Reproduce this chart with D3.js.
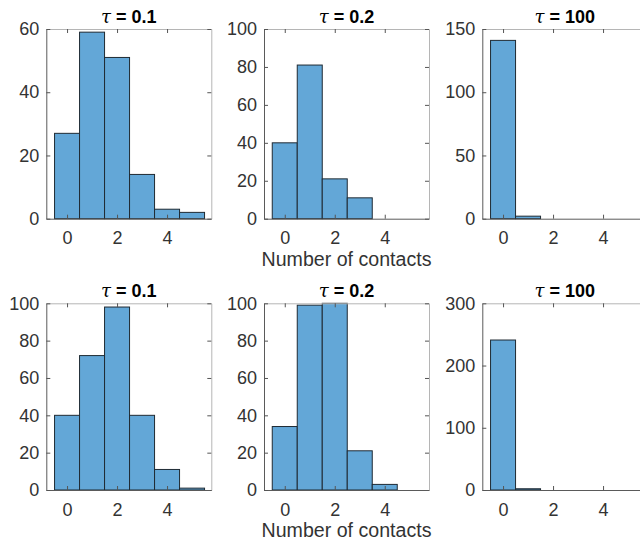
<!DOCTYPE html>
<html>
<head>
<meta charset="utf-8">
<script src="https://cdn.jsdelivr.net/npm/d3@7"></script>
<style>
  body { margin: 0; background: #fff; }
  svg { display: block; font-family: "Liberation Sans", Arial, sans-serif; }
</style>
</head>
<body>
<div id="chart"></div>
<script>
// histogram counts per bin (bins centred on 0,1,2,...)
const tauLabels = ["0.1", "0.2", "100"];
const topCounts = [
  [27, 59, 51, 14, 3, 2],
  [40, 81, 21, 11, 0, 0],
  [141, 2, 0, 0, 0, 0]
];
const bottomCounts = [
  [40, 72, 98, 40, 11, 1],
  [34, 99, 100, 21, 3, 0],
  [241, 2, 0, 0, 0, 0]
];
const topYTicks = [[0, 20, 40, 60], [0, 20, 40, 60, 80, 100], [0, 50, 100, 150]];
const bottomYTicks = [[0, 20, 40, 60, 80, 100], [0, 20, 40, 60, 80, 100], [0, 100, 200, 300]];
const xTicks = [0, 2, 4];
const xLabel = "Number of contacts";

const W = 640, H = 540;
const colLeft = [46.3, 264, 482.3], axW = 165;
const rows = [
  {top: 29, bottom: 218.7, counts: topCounts, ticks: topYTicks},
  {top: 303.3, bottom: 490, counts: bottomCounts, ticks: bottomYTicks}
];

const svg = d3.select("#chart").append("svg")
  .attr("width", W).attr("height", H);

const x = d3.scaleLinear().domain([-0.83, 5.77]).range([0, axW]);

rows.forEach(function(row, r) {
  row.counts.forEach(function(counts, c) {
    const yt = row.ticks[c];
    const h = row.bottom - row.top;
    const y = d3.scaleLinear().domain([0, yt[yt.length - 1]]).range([h, 0]);
    const g = svg.append("g")
      .attr("transform", "translate(" + colLeft[c] + "," + row.top + ")");

    const bins = counts.map(function(v, i) { return {x0: i - 0.5, x1: i + 0.5, v: v}; })
      .filter(function(d) { return d.v > 0; });

    g.selectAll("rect.bar").data(bins).enter().append("rect")
      .attr("class", "bar")
      .attr("x", function(d) { return x(d.x0); })
      .attr("y", function(d) { return y(d.v); })
      .attr("width", function(d) { return x(d.x1) - x(d.x0); })
      .attr("height", function(d) { return h - y(d.v); })
      .attr("fill", "#63a7d7")
      .attr("stroke", "#1f2a33")
      .attr("stroke-width", 1);

    // mirrored ticks on top / right, box in light grey
    g.append("g").call(d3.axisTop(x).tickValues(xTicks).tickSizeInner(-4).tickSizeOuter(0).tickFormat(""))
      .call(function(s) { s.select(".domain").attr("stroke", "#b5b5b5"); s.selectAll("line").attr("stroke", "#555"); });
    g.append("g").attr("transform", "translate(" + axW + ",0)")
      .call(d3.axisRight(y).tickValues(yt).tickSizeInner(-4).tickSizeOuter(0).tickFormat(""))
      .call(function(s) { s.select(".domain").attr("stroke", "#b5b5b5"); s.selectAll("line").attr("stroke", "#555"); });

    const xa = g.append("g").attr("transform", "translate(0," + h + ")")
      .call(d3.axisBottom(x).tickValues(xTicks).tickFormat(d3.format("d"))
        .tickSizeInner(-4).tickSizeOuter(0).tickPadding(13));
    const ya = g.append("g")
      .call(d3.axisLeft(y).tickValues(yt).tickFormat(d3.format("d"))
        .tickSizeInner(-4).tickSizeOuter(0).tickPadding(7));
    [xa, ya].forEach(function(a) {
      a.select(".domain").attr("stroke", "#5a5a5a");
      a.selectAll("line").attr("stroke", "#555");
      a.selectAll("text").attr("font-size", 18).attr("fill", "#333")
        .attr("font-family", "Liberation Sans, Arial, sans-serif");
    });

    const title = g.append("text")
      .attr("x", axW / 2).attr("y", -6.5)
      .attr("text-anchor", "middle").attr("fill", "#000");
    title.append("tspan").text("τ")
      .attr("font-family", "DejaVu Serif, serif").attr("font-style", "italic").attr("font-size", 18);
    title.append("tspan").text(" = " + tauLabels[c])
      .attr("font-weight", "bold").attr("font-size", 18);

    if (c === 1) {
      g.append("text")
        .attr("x", axW / 2).attr("y", h + 47.5)
        .attr("text-anchor", "middle")
        .attr("font-size", 19.6).attr("fill", "#333")
        .text(xLabel);
    }
  });
});
</script>
</body>
</html>
